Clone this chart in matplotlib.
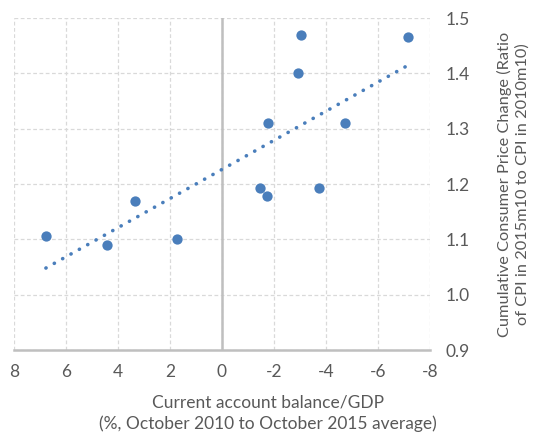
import numpy as np
import matplotlib
matplotlib.use("Agg")
import matplotlib.pyplot as plt

# current account balance (% of GDP) and cumulative CPI ratio
ca_balance = [6.77, 4.42, 3.35, 1.73, -1.46, -1.73, -1.77, -2.92, -3.04, -3.73, -4.73, -7.15]
cpi_ratio = [1.106, 1.090, 1.169, 1.100, 1.193, 1.178, 1.310, 1.400, 1.470, 1.193, 1.310, 1.466]

x_ticks = [8, 6, 4, 2, 0, -2, -4, -6, -8]
y_ticks = [0.9, 1.0, 1.1, 1.2, 1.3, 1.4, 1.5]

plt.rcParams['font.family'] = ['Lato', 'DejaVu Sans']
text_color = '#595959'
blue = '#4A7EBB'

fig = plt.figure(figsize=(5.36, 4.34), dpi=100)
ax = fig.add_axes([0.026, 0.1935, 0.776, 0.765])

ax.scatter(ca_balance, cpi_ratio, s=55, color=blue, zorder=4, linewidths=0)

# linear trend across the data range
slope, intercept = np.polyfit(ca_balance, cpi_ratio, 1)
xs = np.array([max(ca_balance), min(ca_balance)])
ax.plot(xs, slope * xs + intercept, color=blue, lw=2.6,
        linestyle=(0, (0.05, 2.6)), dash_capstyle='round', zorder=3)

ax.set_xlim(8, -8)
ax.set_ylim(0.9, 1.5)
ax.set_xticks(x_ticks)
ax.set_xticklabels([f"{t:g}" for t in x_ticks])
ax.set_yticks(y_ticks)
ax.set_yticklabels([f"{t:.1f}" for t in y_ticks])

ax.grid(True, color='#d9d9d9', linestyle=(0, (3, 2)), linewidth=0.9, zorder=0)
ax.axvline(0, color='#bfbfbf', lw=1.8, zorder=2)

for side in ['top', 'left', 'right']:
    ax.spines[side].set_visible(False)
ax.spines['bottom'].set_color('#bfbfbf')
ax.spines['bottom'].set_linewidth(1.8)

ax.yaxis.tick_right()
ax.tick_params(axis='both', length=0, labelsize=12.5, colors=text_color)
ax.tick_params(axis='x', pad=10)
ax.tick_params(axis='y', pad=11)

fig.text(0.5, 1 - 413 / 434,
         "Current account balance/GDP\n(%, October 2010 to October 2015 average)",
         ha='center', va='center', fontsize=12.5, color=text_color, linespacing=1.35)
fig.text(513.5 / 536, 1 - 184 / 434,
         "Cumulative Consumer Price Change (Ratio\nof CPI in 2015m10 to CPI in 2010m10)",
         ha='center', va='center', rotation=90, fontsize=11.8, color=text_color,
         linespacing=1.35)

fig.savefig("out.png", dpi=100)
